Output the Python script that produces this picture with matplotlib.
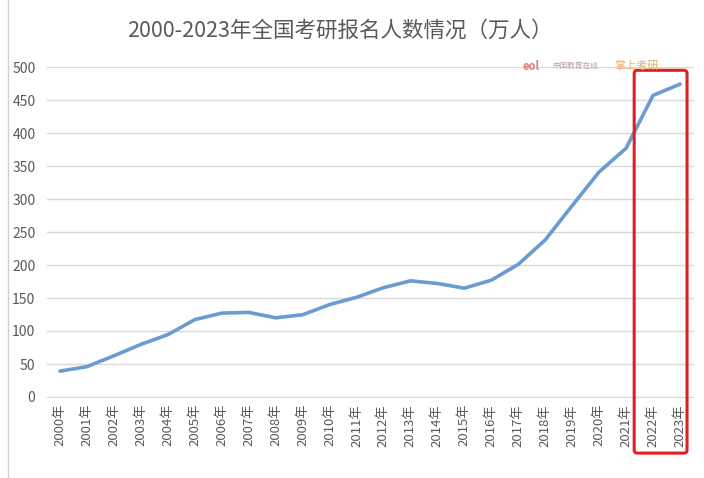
import matplotlib
matplotlib.use("Agg")
import matplotlib.pyplot as plt
from matplotlib.patches import FancyBboxPatch
from matplotlib.lines import Line2D

plt.rcParams['font.family'] = ['Noto Sans CJK SC', 'DejaVu Sans']

# data (万人)
years = list(range(2000, 2024))
applicants = [39.2, 46, 62.4, 79.7, 94.5, 117.2, 127.1, 128.2, 120, 124.6,
              140, 151.1, 165.6, 176, 172, 164.9, 177, 201, 238, 290,
              341, 377, 457, 474]
labels = [f"{y}年" for y in years]
highlight = [2022, 2023]

grey = '#595959'

fig = plt.figure(figsize=(7.04, 4.78), dpi=100)
ax = fig.add_axes([46.5 / 704, 1 - 397 / 478, (693.5 - 46.5) / 704, 330 / 478])

x = list(range(len(years)))
ax.plot(x, applicants, color='#6A9BD1', linewidth=2.6, solid_capstyle='round')

ax.set_xlim(-0.5, len(years) - 0.5)
ax.set_ylim(0, 500)
ax.set_yticks(range(0, 501, 50))
ax.set_xticks(x)
ax.set_xticklabels(labels, rotation=90, fontsize=9.5, color=grey)
ax.tick_params(axis='y', labelsize=10, colors=grey, length=0, pad=8)
ax.tick_params(axis='x', length=0, pad=5)
ax.grid(axis='y', color='#d9d9d9', linewidth=1)
ax.set_axisbelow(True)
for s in ['top', 'right', 'left']:
    ax.spines[s].set_visible(False)
ax.spines['bottom'].set_color('#d9d9d9')

fig.text(340 / 704, 1 - 31 / 478, '2000-2023年全国考研报名人数情况（万人）',
         ha='center', va='center', fontsize=15.5, color=grey)

# faint watermarks
fig.text(0.742, 1 - 66 / 478, 'eol', ha='left', va='center',
         fontsize=8, color='#d98080', style='italic', fontweight='bold')
fig.text(0.785, 1 - 66 / 478, '中国教育在线', ha='left', va='center',
         fontsize=5.5, color='#c0a0a0')
fig.text(0.872, 1 - 66 / 478, '掌上考研', ha='left', va='center',
         fontsize=8, color='#e8b070')

# left border of the original image
fig.add_artist(Line2D([8 / 704, 8 / 704], [0, 1], color='#d0d0d0', linewidth=1))

# red highlight box around last two years
i0 = years.index(highlight[0])
i1 = years.index(highlight[-1])
rect = FancyBboxPatch((i0 - 0.7, -85), (i1 - i0) + 0.96, 580,
                      boxstyle='round,pad=0,rounding_size=0.12',
                      mutation_aspect=40, fill=False,
                      edgecolor='#e02020', linewidth=2.2, clip_on=False, zorder=5)
ax.add_patch(rect)

fig.savefig('out.png', dpi=100)
